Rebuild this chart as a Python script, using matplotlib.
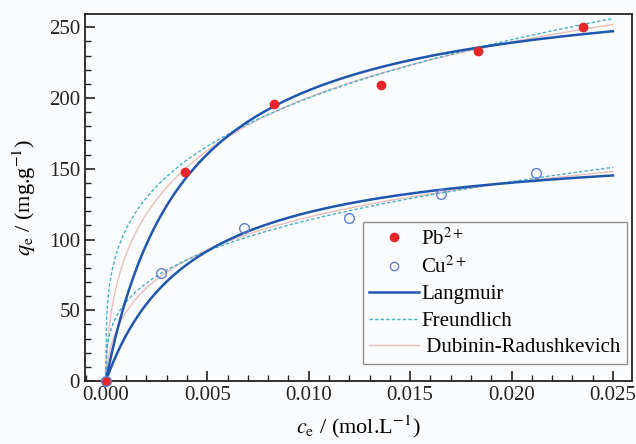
import numpy as np
import matplotlib
matplotlib.use("Agg")
import matplotlib.pyplot as plt
from matplotlib.ticker import MultipleLocator
from matplotlib.lines import Line2D

# ---- data ----
pb_c = [0.0, 0.0039, 0.0083, 0.01357, 0.01834, 0.02352]
pb_q = [0.0, 148, 196, 209, 233, 250]
cu_c = [0.0, 0.0027, 0.0068, 0.0120, 0.0165, 0.0212]
cu_q = [0.0, 76, 108, 115, 132, 147]

# fitted isotherm parameters (estimated from curves)
lang_pb = (286.0, 255.0)   # qm, K
lang_cu = (170.0, 235.0)
freu_pb = (693.6, 0.27)    # Kf, 1/n
freu_cu = (472.0, 0.309)
dr_pb = (383.8, 0.0305)    # qm, B
dr_cu = (232.4, 0.0327)

x_ticks = [0.000, 0.005, 0.010, 0.015, 0.020, 0.025]
y_ticks = [0, 50, 100, 150, 200, 250]

plt.rcParams['font.family'] = ['Liberation Serif', 'DejaVu Serif']
plt.rcParams['mathtext.fontset'] = 'stix'

bg = '#fbfcfe'
fig = plt.figure(figsize=(6.36, 4.44), dpi=100, facecolor=bg)
ax = fig.add_axes([0.1336, 0.1419, 0.8601, 0.8266], facecolor=bg)

c = np.linspace(1e-7, 0.025, 600)
c0 = np.concatenate([[0.0], c])

def langmuir(p):
    qm, K = p
    return qm * K * c0 / (1 + K * c0)

def freundlich(p):
    Kf, n = p
    return Kf * c0 ** n

def dr(p):
    qm, B = p
    eps = np.log(1 + 1 / c)
    return np.concatenate([[0.0], qm * np.exp(-B * eps ** 2)])

dr_col = '#ebbdb5'
fr_col = '#45b0d0'
la_col = '#1f56b0'

ax.plot(c0, dr(dr_pb), color=dr_col, lw=1.0, zorder=2)
ax.plot(c0, dr(dr_cu), color=dr_col, lw=1.0, zorder=2)
ax.plot(c0, freundlich(freu_pb), color=fr_col, lw=1.0, ls=(0, (2.5, 1.5)), zorder=3)
ax.plot(c0, freundlich(freu_cu), color=fr_col, lw=1.0, ls=(0, (2.5, 1.5)), zorder=3)
ax.plot(c0, langmuir(lang_pb), color=la_col, lw=1.8, zorder=4)
ax.plot(c0, langmuir(lang_cu), color=la_col, lw=1.8, zorder=4)

ax.plot(pb_c, pb_q, 'o', ms=6, color='#e8262a', mec='#e8262a', zorder=5, clip_on=False)
ax.plot(cu_c, cu_q, 'o', ms=7, mfc='none', mec='#5d7fd0', mew=1.0, zorder=5, clip_on=False)

handles = [
    Line2D([], [], ls='none', marker='o', ms=6, color='#e8262a'),
    Line2D([], [], ls='none', marker='o', ms=6, mfc='none', mec='#5d7fd0'),
    Line2D([], [], color=la_col, lw=1.8),
    Line2D([], [], color=fr_col, lw=1.0, ls=(0, (2.5, 1.5))),
    Line2D([], [], color=dr_col, lw=1.0),
]
labels = ['Pb$^{2+}$', 'Cu$^{2+}$', 'Langmuir', 'Freundlich', ' Dubinin-Radushkevich']
leg = ax.legend(handles, labels, loc='upper right', bbox_to_anchor=(0.991, 0.433),
                fontsize=15, frameon=True, fancybox=False, handlelength=2.4,
                handletextpad=0.1, labelspacing=0.33, borderpad=0.3, borderaxespad=0)
leg.get_frame().set_edgecolor('#777777')
leg.get_frame().set_linewidth(1.0)
leg.get_frame().set_facecolor(bg)

ax.set_xlim(-0.00103, 0.02594)
ax.set_ylim(0, 259.4)
ax.set_xticks(x_ticks)
ax.set_xticklabels([f'{v:.3f}' for v in x_ticks])
ax.set_yticks(y_ticks)
ax.xaxis.set_minor_locator(MultipleLocator(0.001))
ax.yaxis.set_minor_locator(MultipleLocator(10))
ax.tick_params(which='both', direction='in', top=False, right=False, labelsize=15, colors='#222222')
ax.tick_params(which='major', length=7, width=1.2)
ax.tick_params(which='minor', length=4, width=1.0)
for s in ax.spines.values():
    s.set_linewidth(1.3)
    s.set_color('#222222')

ax.set_xlabel('$c_\\mathrm{e}$ / (mol.L$^{-1}$)', fontsize=16, labelpad=6)
ax.set_ylabel('$q_\\mathrm{e}$ / (mg.g$^{-1}$)', fontsize=16, labelpad=8)

fig.savefig('out.png', dpi=100, facecolor=bg)
